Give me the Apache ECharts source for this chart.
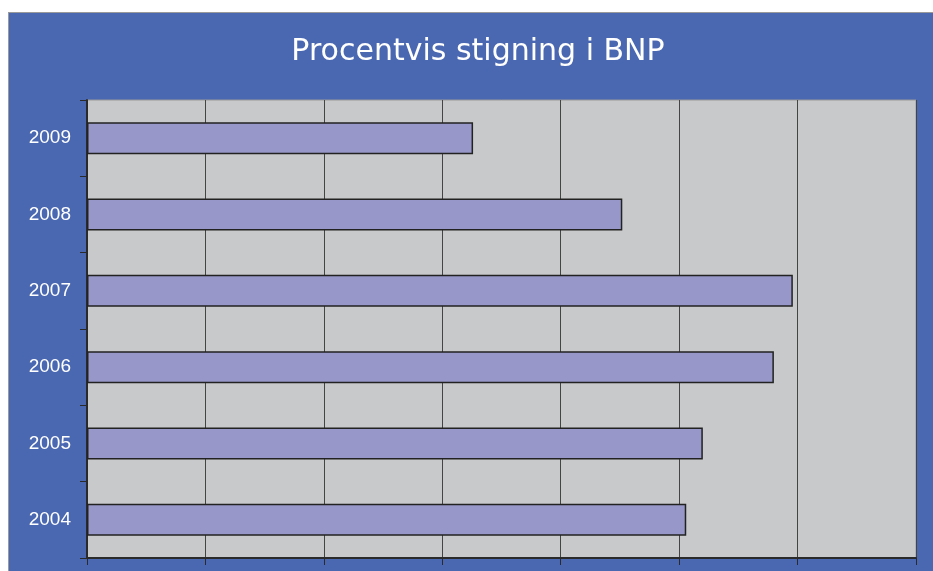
<!DOCTYPE html>
<html>
<head>
<meta charset="utf-8">
<script src="https://cdn.jsdelivr.net/npm/echarts@6/dist/echarts.min.js"></script>
<style>
html,body{margin:0;padding:0;background:#ffffff;width:933px;height:571px;overflow:hidden;}
#chart{position:absolute;left:8px;top:12px;width:925px;height:559px;background:#4a67b1;box-sizing:border-box;border-top:1px solid #9a9a9a;border-left:1px solid #9a9a9a;}
</style>
</head>
<body>
<div id="chart"></div>
<script>
const titleText = 'Procentvis stigning i BNP';
const years = ['2004', '2005', '2006', '2007', '2008', '2009'];
const growth = [2.53, 2.60, 2.90, 2.98, 2.26, 1.63];
const xMin = 0, xMax = 3.5, xStep = 0.5;

const chart = echarts.init(document.getElementById('chart'), null, {renderer: 'canvas'});
chart.setOption({
  backgroundColor: 'transparent',
  animation: false,
  graphic: [{
    type: 'text',
    x: 469,
    y: 24,
    style: {
      text: titleText,
      fill: '#ffffff',
      font: '30px "DejaVu Sans"',
      align: 'center',
      verticalAlign: 'top'
    }
  }],
  grid: {
    left: 78, top: 87, width: 829, height: 458,
    show: true,
    backgroundColor: '#c8c9cb',
    borderColor: '#9a9a9a',
    borderWidth: 1
  },
  xAxis: {
    type: 'value',
    min: xMin, max: xMax, interval: xStep,
    axisLine: {show: true, lineStyle: {color: '#2a2a2a', width: 2}},
    axisTick: {show: true, length: 7, lineStyle: {color: '#2a2a2a', width: 1}},
    axisLabel: {show: false},
    splitLine: {show: true, lineStyle: {color: '#444', width: 1}}
  },
  yAxis: {
    type: 'category',
    data: years,
    axisLine: {show: true, lineStyle: {color: '#2a2a2a', width: 2}},
    axisTick: {show: true, length: 7, lineStyle: {color: '#2a2a2a', width: 1}},
    axisLabel: {color: '#ffffff', fontFamily: 'Liberation Sans, Arial', fontSize: 19, margin: 16},
    splitLine: {show: false}
  },
  series: [{
    type: 'bar',
    data: growth,
    barWidth: '42%',
    itemStyle: {color: '#9797c9', borderColor: '#222222', borderWidth: 1.5}
  }]
});
</script>
</body>
</html>
